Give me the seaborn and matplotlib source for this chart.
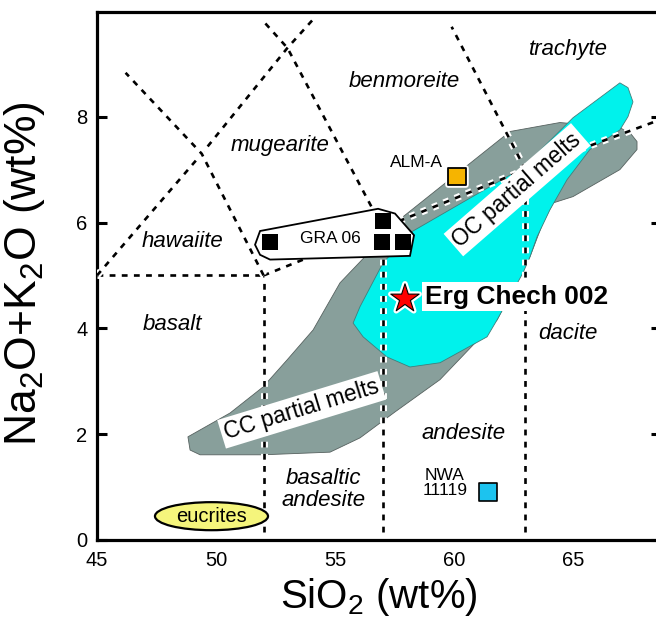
import matplotlib
matplotlib.use("Agg")
import matplotlib.pyplot as plt
import matplotlib.patheffects as pe
from matplotlib.patches import Polygon, Ellipse
import seaborn as sns

# ---- TAS field boundaries (SiO2, Na2O+K2O) ----
boundary_x = [
    [45, 52], [52, 52], [57, 57], [63, 63],
    [52, 57, 63, 69],
    [45, 49.4, 53, 54.2],
    [52, 49.4, 46.2],
    [57, 53, 52.0],
    [63, 59.9],
]
boundary_y = [
    [5, 5], [0.15, 5], [0.15, 5.9], [0.15, 7],
    [5, 5.9, 7, 8],
    [5, 7.3, 9.3, 9.9],
    [5, 7.3, 8.83],
    [5.9, 9.3, 9.8],
    [7, 9.7],
]

# ---- field names ----
field_names = ["trachyte", "benmoreite", "mugearite", "hawaiite", "basalt",
               "dacite", "andesite", "basaltic\nandesite"]
field_x = [64.8, 57.9, 52.7, 48.6, 48.15, 64.8, 60.4, 54.5]
field_y = [9.27, 8.66, 7.45, 5.65, 4.07, 3.91, 2.02, 0.95]

# ---- continental crust (CC) partial melt field ----
cc_x = [48.82, 48.91, 49.33, 51.97, 54.79, 56.05, 57.52, 59.41, 61.81, 63.19,
        63.74, 64.16, 65.00, 66.97, 67.69, 67.69, 67.39, 66.97, 64.45, 62.35,
        57.86, 55.21, 54.08, 52.98, 51.97, 50.59]
cc_y = [1.95, 1.70, 1.61, 1.61, 1.66, 1.93, 2.42, 3.03, 4.16, 5.35,
        6.00, 6.37, 6.49, 7.00, 7.38, 7.53, 7.70, 7.79, 7.89, 7.72,
        6.11, 4.86, 3.97, 3.40, 2.89, 2.40]

# ---- oceanic crust (OC) partial melt field ----
oc_x = [66.97, 67.31, 67.52, 67.31, 66.97, 66.55, 65.71, 64.75, 64.03, 63.49,
        63.19, 62.90, 61.81, 61.39, 59.41, 58.15, 57.18, 56.18, 55.76, 56.05,
        57.02, 58.24, 62.90, 65.00]
oc_y = [8.64, 8.55, 8.28, 8.00, 7.75, 7.62, 7.38, 6.81, 6.24, 5.73,
        5.35, 5.05, 4.16, 3.84, 3.35, 3.27, 3.46, 3.84, 4.10, 4.41,
        5.24, 5.83, 7.04, 7.98]

# ---- GRA 06 samples and their enclosing outline ----
gra_x = [52.27, 57.02, 56.98, 57.86]
gra_y = [5.63, 6.02, 5.64, 5.64]
gra_outline_x = [51.85, 51.64, 51.85, 52.27, 58.15, 58.32, 57.52, 56.81]
gra_outline_y = [5.84, 5.58, 5.39, 5.30, 5.37, 5.76, 6.17, 6.26]

# ---- individual meteorites ----
alm_x, alm_y = [60.13], [6.87]
erg_x, erg_y = [57.94], [4.56]
nwa_x, nwa_y = [61.43], [0.91]

# ---- eucrite field ----
eucrite_center = (49.81, 0.45)
eucrite_size = (4.75, 0.53)

# ---- axes ----
x_ticks = [45, 50, 55, 60, 65]
y_ticks = [0, 2, 4, 6, 8]

sns.set_style("white")
plt.rcParams["font.family"] = ["Liberation Sans", "DejaVu Sans"]
plt.rcParams["mathtext.fontset"] = "custom"
plt.rcParams["mathtext.rm"] = "Liberation Sans"
plt.rcParams["mathtext.it"] = "Liberation Sans:italic"
plt.rcParams["mathtext.default"] = "regular"
for key in ["text.color", "axes.labelcolor", "xtick.labelcolor",
            "ytick.labelcolor"]:
    plt.rcParams[key] = "black"

fig = plt.figure(figsize=(6.56, 6.26), dpi=100)
ax = fig.add_axes([0.1479, 0.1374, 0.8598, 0.8435])
ax.set_xlim(45, 68.7)
ax.set_ylim(0, 9.98)

# partial melt fields
ax.add_patch(Polygon(list(zip(cc_x, cc_y)), closed=True, fc="#889f9b",
                     ec="#56615f", lw=0.6, zorder=1))
ax.add_patch(Polygon(list(zip(oc_x, oc_y)), closed=True, fc="#00f2ec",
                     ec="#3f7f7c", lw=0.6, zorder=2))

# dashed TAS boundaries with a white halo
halo = [pe.Stroke(linewidth=5, foreground="white"), pe.Normal()]
for bx, by in zip(boundary_x, boundary_y):
    sns.lineplot(x=bx, y=by, ax=ax, color="black", lw=1.9, sort=False,
                 estimator=None, zorder=3,
                 dashes=False, linestyle=(0, (2.2, 2.4)),
                 path_effects=halo)

# eucrites
ax.add_patch(Ellipse(eucrite_center, *eucrite_size, fc="#f5f57c", ec="black",
                     lw=1.6, zorder=4))
ax.text(eucrite_center[0], eucrite_center[1], "eucrites", ha="center",
        va="center", fontsize=14.5, zorder=5)

# GRA 06 outline and points
ax.add_patch(Polygon(list(zip(gra_outline_x, gra_outline_y)), closed=True,
                     fc="white", ec="black", lw=1.3, zorder=4))
sns.scatterplot(x=gra_x, y=gra_y, ax=ax, marker="s", s=135, color="black",
                edgecolor="black", linewidth=0, zorder=5)
ax.text(54.8, 5.69, "GRA 06", ha="center", va="center", fontsize=12.5,
        zorder=6)

# ALM-A
sns.scatterplot(x=alm_x, y=alm_y, ax=ax, marker="s", s=160, color="#f6b400",
                edgecolor="black", linewidth=1.3, zorder=6)
ax.collections[-1].set_path_effects([pe.Stroke(linewidth=4, foreground="white"),
                                     pe.Normal()])
ax.text(59.55, 7.13, "ALM-A", ha="right", va="center", fontsize=12.5, zorder=6)

# NWA 11119
sns.scatterplot(x=nwa_x, y=nwa_y, ax=ax, marker="s", s=150, color="#1cc3ef",
                edgecolor="black", linewidth=1.2, zorder=6)
ax.text(59.62, 1.08, "NWA\n11119", ha="center", va="center", fontsize=12.5,
        linespacing=1.05, zorder=6)

# Erg Chech 002
sns.scatterplot(x=erg_x, y=erg_y, ax=ax, marker="*", s=460, color="#ff0000",
                edgecolor="black", linewidth=0.8, zorder=7)
ax.collections[-1].set_path_effects([pe.Stroke(linewidth=4, foreground="white"),
                                     pe.Normal()])
ax.text(58.78, 4.6, "Erg Chech 002", ha="left", va="center", fontsize=19,
        fontweight="bold", zorder=7,
        bbox=dict(boxstyle="square,pad=0.1", fc="white", ec="none"))

# field name labels
for name, fx, fy in zip(field_names, field_x, field_y):
    ax.text(fx, fy, name, ha="center", va="center", fontsize=16,
            style="italic", linespacing=1.05, zorder=4)

# partial melt labels
box = dict(boxstyle="square,pad=0.15", fc="white", ec="none")
ax.text(53.6, 2.46, "CC partial melts", rotation=17, ha="center",
        va="center", fontsize=16.3, bbox=box, zorder=6,
        rotation_mode="anchor")
ax.text(62.65, 6.62, "OC partial melts", rotation=41, ha="center",
        va="center", fontsize=16.3, bbox=box, zorder=6,
        rotation_mode="anchor")

# axes styling
ax.set_xticks(x_ticks)
ax.set_yticks(y_ticks)
ax.set_xticklabels([str(t) for t in x_ticks])
ax.set_yticklabels([str(t) for t in y_ticks])
ax.tick_params(axis="x", direction="in", length=6.5, width=1.2,
               color="#1f1fd0", labelcolor="black", labelsize=14.5, pad=8)
ax.tick_params(axis="y", direction="in", length=7, width=2.2, color="black",
               labelcolor="black", labelsize=14.5, pad=7, right=True,
               left=True)
for side in ["left", "bottom", "top", "right"]:
    ax.spines[side].set_linewidth(2.3)
    ax.spines[side].set_color("black")

ax.set_xlabel("SiO$_2$ (wt%)", fontsize=29, labelpad=4)
ax.set_ylabel("Na$_2$O+K$_2$O (wt%)", fontsize=32)
ax.yaxis.set_label_coords(-0.088, 0.504)

fig.savefig("out.png", dpi=100)
